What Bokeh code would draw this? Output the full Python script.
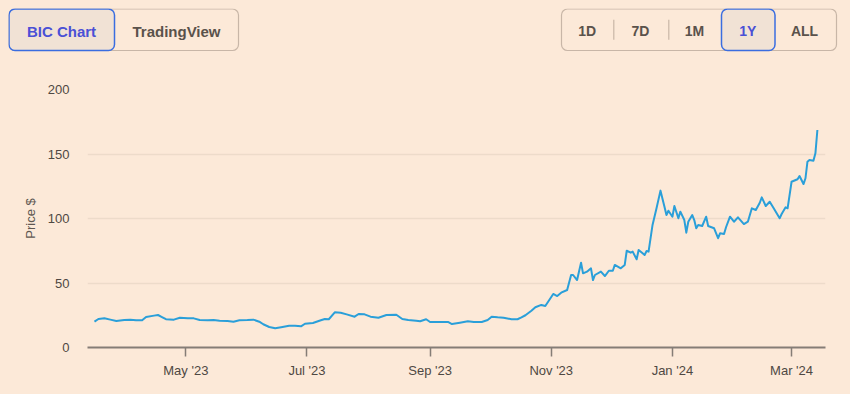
import pandas as pd
from datetime import datetime
from bokeh.plotting import figure
from bokeh.layouts import column
from bokeh.models import (ColumnDataSource, Range1d, FixedTicker, DatetimeTickFormatter,
                          BoxAnnotation)
from bokeh.core.properties import value
from bokeh.embed import file_html
from bokeh.resources import INLINE

# ---------------- data ----------------
dates = [
    "2023-03-16", "2023-03-18", "2023-03-21", "2023-03-24", "2023-03-27", "2023-03-31",
    "2023-04-03", "2023-04-06", "2023-04-09", "2023-04-11", "2023-04-15", "2023-04-17",
    "2023-04-19", "2023-04-21", "2023-04-25", "2023-04-28", "2023-05-02", "2023-05-05",
    "2023-05-08", "2023-05-12", "2023-05-15", "2023-05-18", "2023-05-22", "2023-05-25",
    "2023-05-28", "2023-06-01", "2023-06-04", "2023-06-07", "2023-06-09", "2023-06-12",
    "2023-06-15", "2023-06-18", "2023-06-22", "2023-06-25", "2023-06-28", "2023-06-30",
    "2023-07-04", "2023-07-08", "2023-07-10", "2023-07-12", "2023-07-15", "2023-07-18",
    "2023-07-21", "2023-07-25", "2023-07-27", "2023-07-30", "2023-08-02", "2023-08-06",
    "2023-08-10", "2023-08-15", "2023-08-18", "2023-08-21", "2023-08-25", "2023-08-27",
    "2023-08-30", "2023-09-01", "2023-09-06", "2023-09-10", "2023-09-12", "2023-09-16",
    "2023-09-20", "2023-09-23", "2023-09-27", "2023-09-30", "2023-10-02", "2023-10-05",
    "2023-10-08", "2023-10-12", "2023-10-15", "2023-10-17", "2023-10-19", "2023-10-22",
    "2023-10-24", "2023-10-27", "2023-10-29", "2023-10-31", "2023-11-02", "2023-11-04",
    "2023-11-06", "2023-11-09", "2023-11-11", "2023-11-12", "2023-11-14", "2023-11-16",
    "2023-11-17", "2023-11-19", "2023-11-21", "2023-11-22", "2023-11-23", "2023-11-26",
    "2023-11-28", "2023-11-30", "2023-12-02", "2023-12-03", "2023-12-06", "2023-12-08",
    "2023-12-09", "2023-12-11", "2023-12-12", "2023-12-14", "2023-12-15", "2023-12-17",
    "2023-12-18", "2023-12-19", "2023-12-20", "2023-12-22", "2023-12-24", "2023-12-26",
    "2023-12-28", "2023-12-29", "2023-12-30", "2024-01-01", "2024-01-02", "2024-01-04",
    "2024-01-05", "2024-01-07", "2024-01-08", "2024-01-09", "2024-01-11", "2024-01-12",
    "2024-01-13", "2024-01-14", "2024-01-16", "2024-01-18", "2024-01-19", "2024-01-22",
    "2024-01-24", "2024-01-25", "2024-01-27", "2024-01-28", "2024-01-30", "2024-02-01",
    "2024-02-03", "2024-02-06", "2024-02-08", "2024-02-10", "2024-02-12", "2024-02-14",
    "2024-02-15", "2024-02-17", "2024-02-19", "2024-02-21", "2024-02-24", "2024-02-25",
    "2024-02-27", "2024-02-28", "2024-03-01", "2024-03-04", "2024-03-05", "2024-03-07",
    "2024-03-08", "2024-03-09", "2024-03-10", "2024-03-12", "2024-03-13", "2024-03-14",
]
prices = [
    20.0, 22.1, 22.6, 21.6, 20.5, 21.3,
    21.6, 21.1, 21.1, 23.6, 24.7, 25.2,
    23.6, 21.9, 21.6, 23.1, 22.6, 22.6,
    21.3, 21.1, 21.3, 20.8, 20.5, 20.0,
    21.1, 21.3, 21.6, 20.0, 18.0, 15.9,
    14.9, 15.7, 16.9, 16.9, 16.4, 18.4,
    19.0, 21.1, 22.1, 21.9, 27.3, 27.0,
    25.7, 23.9, 26.0, 25.7, 23.9, 23.1,
    25.2, 25.4, 22.1, 21.3, 20.8, 20.3,
    21.9, 19.8, 19.8, 19.8, 18.2, 19.2,
    20.3, 19.8, 19.8, 21.3, 23.9, 23.4,
    23.1, 21.9, 21.9, 23.4, 25.0, 28.5,
    31.2, 33.0, 32.2, 36.8, 41.5, 39.9,
    42.5, 44.6, 56.2, 56.2, 52.3, 65.7,
    57.5, 58.8, 61.4, 52.3, 56.2, 58.8,
    55.4, 59.5, 59.5, 64.0, 61.4, 64.0,
    75.0, 73.5, 74.3, 68.4, 75.6, 73.0,
    71.7, 74.8, 74.3, 95.0, 107.9, 121.6,
    109.1, 102.7, 106.0, 101.4, 109.7, 100.2,
    105.3, 98.8, 89.0, 97.5, 102.7, 98.8,
    92.4, 95.0, 94.2, 101.4, 94.2, 92.4,
    84.7, 88.5, 88.0, 93.2, 101.4, 97.5,
    100.9, 95.7, 97.5, 107.9, 106.6, 112.2,
    116.4, 109.7, 113.0, 107.9, 100.2, 103.5,
    108.7, 107.9, 128.5, 130.4, 132.9, 126.7,
    131.2, 144.0, 145.3, 144.8, 150.5, 168.6,
]
x_tick_dates = ["2023-05-01", "2023-07-01", "2023-09-01", "2023-11-01", "2024-01-01", "2024-03-01"]
y_ticks = [0, 50, 100, 150, 200]
y_label = "Price $"
left_buttons = ["BIC Chart", "TradingView"]
right_buttons = ["1D", "7D", "1M", "1Y", "ALL"]

# ---------------- styles ----------------
BG = "#fce9d8"
LINE = "#2a9fd9"
GRID = "#eddbca"
AXIS = "#857d76"
TXT = "#4e4843"
BTN_TXT = "#5a524b"
BTN_ACTIVE_TXT = "#4a50d6"
BTN_BORDER = "#c8b6a7"
BTN_ACTIVE_BORDER = "#3a6de0"
BTN_ACTIVE_FILL = "#f1e2d5"

W = 834

# ---------------- top buttons bar ----------------
top = figure(width=W, height=50, x_range=Range1d(0, W), y_range=Range1d(0, 50),
             output_backend="svg", toolbar_location=None, min_border=0)
top.frame_align = False
top.axis.visible = False
top.grid.visible = False
top.outline_line_color = None
top.background_fill_color = BG
top.border_fill_color = BG


def box(l, r, t, b, fill, line, lw):
    top.add_layout(BoxAnnotation(left=l, right=r, top=t, bottom=b, fill_color=fill, fill_alpha=1,
                                 line_color=line, line_alpha=1, line_width=lw, border_radius=6,
                                 level="underlay"))


# left group
box(0.5, 230, 49.5, 8, BG, BTN_BORDER, 1.2)
box(0.5, 106, 49.5, 8, BTN_ACTIVE_FILL, BTN_ACTIVE_BORDER, 1.5)
# right group
box(553, 828, 49.5, 8, BG, BTN_BORDER, 1.2)
box(713, 766.5, 49.5, 8, BTN_ACTIVE_FILL, BTN_ACTIVE_BORDER, 1.5)
top.segment(x0=[605.3, 660.3], y0=[18.7, 18.7], x1=[605.3, 660.3], y1=[38.7, 38.7],
            line_color=BTN_BORDER, line_width=1.2)

lsrc = ColumnDataSource(dict(x=[53, 168], y=[27.5, 27.5], t=left_buttons,
                             c=[BTN_ACTIVE_TXT, BTN_TXT]))
top.text(x="x", y="y", text="t", text_color="c", source=lsrc, text_align="center",
         text_baseline="middle", text_font=value("Liberation Sans"), text_font_style="bold",
         text_font_size="15px")
rsrc = ColumnDataSource(dict(x=[578.7, 632, 686, 739.3, 796], y=[27.5] * 5, t=right_buttons,
                             c=[BTN_TXT, BTN_TXT, BTN_TXT, BTN_ACTIVE_TXT, BTN_TXT]))
top.text(x="x", y="y", text="t", text_color="c", source=rsrc, text_align="center",
         text_baseline="middle", text_font=value("Liberation Sans"), text_font_style="bold",
         text_font_size="14px")

# ---------------- chart ----------------
src = ColumnDataSource(dict(date=pd.to_datetime(dates), price=prices))

p = figure(width=W, height=328, x_axis_type="datetime",
           x_range=Range1d(datetime(2023, 3, 12, 12), datetime(2024, 3, 18, 2)),
           y_range=Range1d(0, 200),
           output_backend="svg", toolbar_location=None,
           min_border_left=79, min_border_right=17, min_border_top=31, min_border_bottom=39)
p.frame_align = False
p.background_fill_color = BG
p.border_fill_color = BG
p.outline_line_color = None

p.line(x="date", y="price", source=src, line_color=LINE, line_width=2, line_join="round")

tick_ms = [pd.Timestamp(d).value // 10**6 for d in x_tick_dates]
p.xaxis.ticker = FixedTicker(ticks=tick_ms)
fmt = "%b '%y"
p.xaxis.formatter = DatetimeTickFormatter(days=fmt, months=fmt, years=fmt)
p.xaxis.axis_line_color = AXIS
p.xaxis.axis_line_width = 2
p.xaxis.major_tick_line_color = AXIS
p.xaxis.major_tick_line_width = 1.5
p.xaxis.major_tick_in = 0
p.xaxis.major_tick_out = 9
p.xaxis.minor_tick_line_color = None
p.xaxis.major_label_standoff = 6
p.xaxis.major_label_text_font = "Liberation Sans"
p.xaxis.major_label_text_font_size = "13px"
p.xaxis.major_label_text_color = TXT

p.yaxis.ticker = FixedTicker(ticks=y_ticks)
p.yaxis.axis_line_color = None
p.yaxis.major_tick_line_color = None
p.yaxis.minor_tick_line_color = None
p.yaxis.major_tick_in = 0
p.yaxis.major_tick_out = 0
p.yaxis.major_label_standoff = 18
p.yaxis.major_label_text_font = "Liberation Sans"
p.yaxis.major_label_text_font_size = "13px"
p.yaxis.major_label_text_color = TXT
p.yaxis.axis_label = y_label
p.yaxis.axis_label_text_font = "Liberation Sans"
p.yaxis.axis_label_text_font_size = "13px"
p.yaxis.axis_label_text_font_style = "normal"
p.yaxis.axis_label_text_color = "#5e5751"
p.yaxis.axis_label_standoff = 7

p.xgrid.grid_line_color = None
p.ygrid.ticker = FixedTicker(ticks=y_ticks)
p.ygrid.grid_line_color = GRID
p.ygrid.grid_line_width = 1.5

layout = column(top, p, spacing=0)

html = file_html(layout, INLINE)
html = html.replace("</head>",
                    "<style>html,body{background:%s;} body{padding:8px !important;}</style></head>" % BG, 1)
open("out.html", "w").write(html)
